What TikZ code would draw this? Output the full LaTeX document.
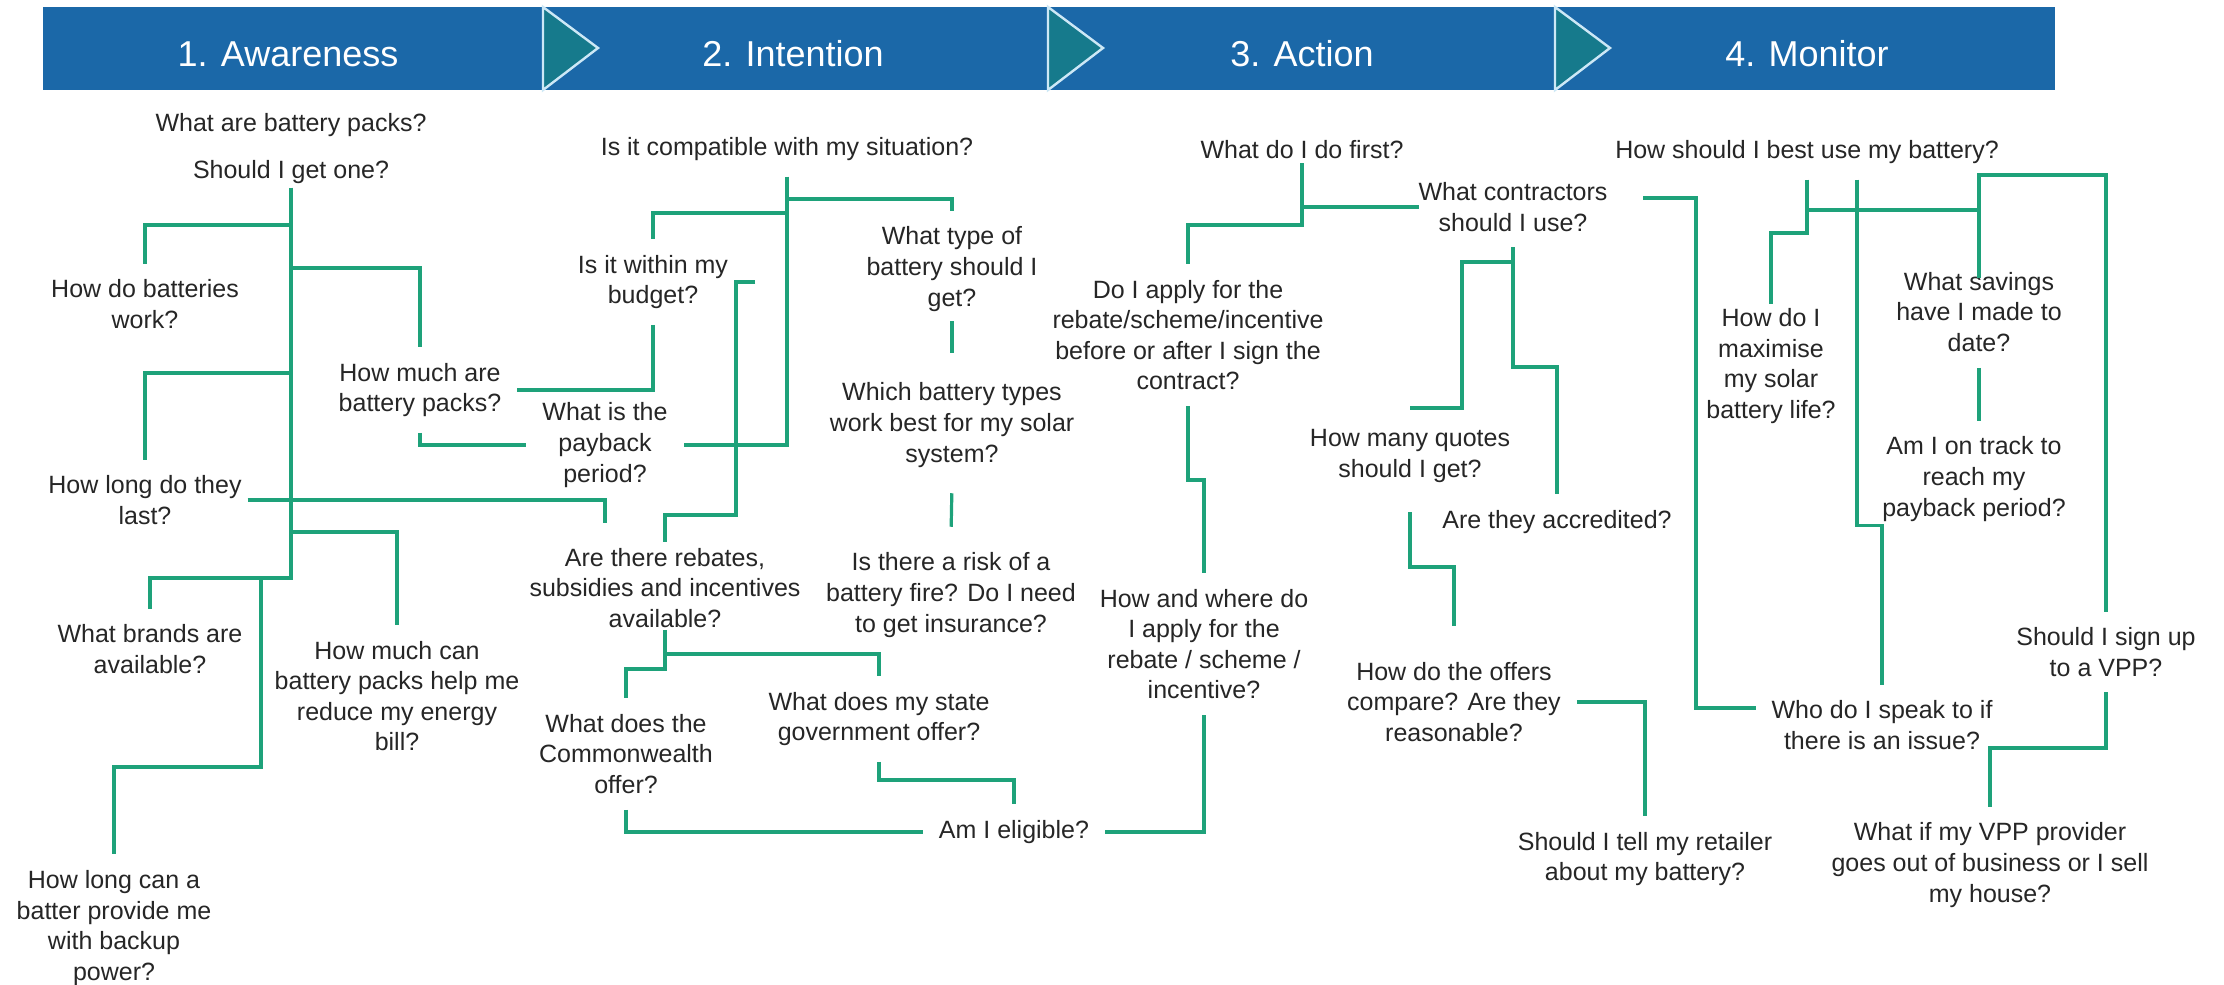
\documentclass[tikz,border=0pt]{standalone}
\usepackage{fontspec}
\setmainfont{Liberation Sans}
\definecolor{barra}{RGB}{27,104,168}
\definecolor{flecha}{RGB}{22,122,140}
\definecolor{borde}{RGB}{205,232,246}
\definecolor{linea}{RGB}{30,162,122}
\definecolor{texto}{RGB}{38,38,38}
\tikzset{
	pregunta/.style={align=center,text=texto,inner sep=0pt,outer sep=8pt,
		font=\fontsize{12.5}{15.3}\selectfont},
	enlace/.style={draw=linea,line width=1.6pt},
	etapa/.style={text=white,font=\fontsize{18}{20}\selectfont}
}
\begin{document}
\begin{tikzpicture}[x=0.5pt,y=-0.5pt]
\useasboundingbox[fill=white] (0,0) rectangle (2224,985);
% etapas
\fill[barra] (43,7) rectangle (2055,90);
\foreach \Xc in {543,1048,1555}
{
	\filldraw[fill=flecha,draw=borde,line width=1.2pt]
	(\Xc,7) -- (\Xc+55,48) -- (\Xc,90) -- cycle;
}
\foreach \Xc/\Texto/\Nombre in
{288/1. Awareness/awareness,793/2. Intention/intention,1302/3. Action/action,1807/4. Monitor/monitor}
{
	\node[etapa] (\Nombre) at (\Xc,54) {\Texto};
}
% preguntas
\node[pregunta] (packs) at (291,125) {What are battery packs?};
\node[pregunta] (getone) at (291,172) {Should I get one?};
\node[pregunta] (work) at (145,304) {How do batteries\\work?};
\node[pregunta] (cost) at (420,390) {How much are\\battery packs?};
\node[pregunta] (last) at (145,500) {How long do they\\last?};
\node[pregunta] (brands) at (150,649) {What brands are\\available?};
\node[pregunta] (bill) at (397,696) {How much can\\battery packs help me\\reduce my energy\\bill?};
\node[pregunta] (backup) at (114,928) {How long can a\\batter provide me\\with backup\\power?};

\node[pregunta] (compat) at (787,149) {Is it compatible with my situation?};
\node[pregunta] (budget) at (653,282) {Is it within my\\budget?};
\node[pregunta] (type) at (952,269) {What type of\\battery should I\\get?};
\node[pregunta] (payback) at (605,445) {What is the\\payback\\period?};
\node[pregunta] (solar) at (952,425) {Which battery types\\work best for my solar\\system?};
\node[pregunta] (rebates) at (665,588) {Are there rebates,\\subsidies and incentives\\available?};
\node[pregunta] (fire) at (951,595) {Is there a risk of a\\battery fire? Do I need\\to get insurance?};
\node[pregunta] (commw) at (626,754) {What does the\\Commonwealth\\offer?};
\node[pregunta] (state) at (879,719) {What does my state\\government offer?};
\node[pregunta] (eligible) at (1014,832) {Am I eligible?};

\node[pregunta] (first) at (1302,150) {What do I do first?};
\node[pregunta] (contractors) at (1513,207) {What contractors\\should I use?};
\node[pregunta] (apply) at (1188,335) {Do I apply for the\\rebate/scheme/incentive\\before or after I sign the\\contract?};
\node[pregunta] (quotes) at (1410,456) {How many quotes\\should I get?};
\node[pregunta] (accredited) at (1557,522) {Are they accredited?};
\node[pregunta] (where) at (1204,644) {How and where do\\I apply for the\\rebate / scheme /\\incentive?};
\node[pregunta] (offers) at (1454,702) {How do the offers\\compare? Are they\\reasonable?};
\node[pregunta] (retailer) at (1645,859) {Should I tell my retailer\\about my battery?};

\node[pregunta] (bestuse) at (1807,152) {How should I best use my battery?};
\node[pregunta] (maximise) at (1771,366) {How do I\\maximise\\my solar\\battery life?};
\node[pregunta] (savings) at (1979,312) {What savings\\have I made to\\date?};
\node[pregunta] (track) at (1974,479) {Am I on track to\\reach my\\payback period?};
\node[pregunta] (vpp) at (2106,652) {Should I sign up\\to a VPP?};
\node[pregunta] (issue) at (1882,725) {Who do I speak to if\\there is an issue?};
\node[pregunta] (provider) at (1990,865) {What if my VPP provider\\goes out of business or I sell\\my house?};
% enlaces
\draw[enlace,shorten <=-6pt] (getone.south) -- (getone.south |- 0,578) -| (brands.north);
\draw[enlace] (getone.south |- 0,225) -| (work.north);
\draw[enlace] (getone.south |- 0,268) -| (cost.north);
\draw[enlace] (getone.south |- 0,373) -| (last.north);
\draw[enlace] (getone.south |- 0,532) -| (bill.north);
\draw[enlace] (getone.south |- 0,578) ++(-30,0) -- ++(0,189) -| (backup.north);
\draw[enlace,shorten <=-5pt,shorten >=-10pt] (last.east) -| (payback.south);
\draw[enlace] (cost.south) |- (payback.west);
\draw[enlace] (budget.south) |- (cost.east);

\draw[enlace] (compat.south) |- (payback.east);
\draw[enlace] (compat.south |- 0,199) -| (type.north);
\draw[enlace] (compat.south |- 0,213) -| (budget.north);
\draw[enlace,shorten <=-3pt,shorten >=7pt] (type.south) -- (solar.north);
\draw[enlace,shorten <=5pt,shorten >=5pt] (solar.south) -- (fire.north);
\draw[enlace,shorten >=-5pt] (budget.east) ++(11,0) -- ++(-19,0) -- ++(0,233) -| (rebates.north);
\draw[enlace,shorten <=-7pt] (rebates.south) -- (rebates.south |- 0,669) -| (commw.north);
\draw[enlace] (rebates.south |- 0,654) -| (state.north);
\draw[enlace] (state.south) -- (state.south |- 0,780) -| (eligible.north);
\draw[enlace] (commw.south) |- (eligible.west);
\draw[enlace] (eligible.east) -| (where.south);

\draw[enlace,shorten <=-6pt] (first.south) -- (first.south |- 0,225) -| (apply.north);
\draw[enlace,shorten >=-8pt] (first.south |- contractors.west) -- (contractors.west);
\draw[enlace] (apply.south) -- (apply.south |- 0,480) -| (where.north);
\draw[enlace] (contractors.south) -- (contractors.south |- 0,367) -| (accredited.north);
\draw[enlace] (contractors.south |- 0,262) -| (1462,408) -- (quotes.north |- 0,408);
\draw[enlace,shorten <=7pt,shorten >=10pt] (quotes.south) -- (quotes.south |- 0,567) -| (offers.north);
\draw[enlace] (offers.east) -| (retailer.north);

\draw[enlace,shorten <=10pt] (contractors.east |- 0,198) -- (1696,198) |- (issue.west |- 0,708);
\draw[enlace,shorten >=-6pt] (bestuse.south) -- (bestuse.south |- 0,233) -| (maximise.north);
\draw[enlace] (bestuse.south |- 0,210) -- (savings.north |- 0,210);
\draw[enlace,shorten <=-11pt] (savings.north) -- (savings.north |- 0,175) -| (vpp.north);
\draw[enlace] (bestuse.south) ++(50,0) -- ++(0,346) -| (issue.north);
\draw[enlace] (savings.south) -- (savings.south |- track.north);
\draw[enlace] (vpp.south) -- (vpp.south |- 0,748) -| (provider.north);
\end{tikzpicture}
\end{document}
